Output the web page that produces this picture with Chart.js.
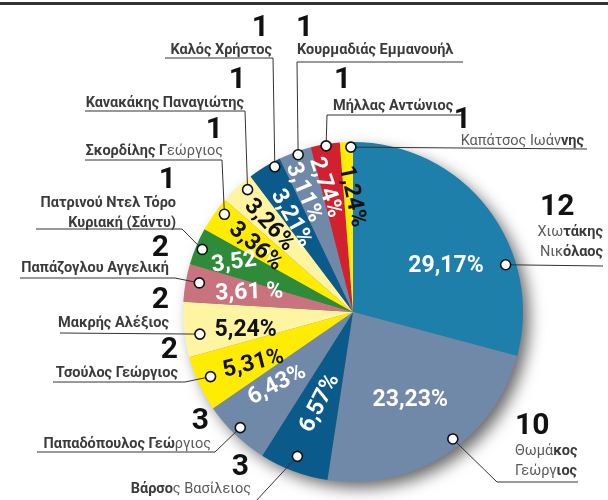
<!DOCTYPE html>
<html lang="el">
<head>
    <meta charset="UTF-8">
    <title>Σταυροί προτίμησης</title>
    <script src="https://cdn.jsdelivr.net/npm/chart.js"></script>
    <style>
        html, body {
            margin: 0;
            padding: 0;
            background: #fff;
        }
        .chart-container {
            position: relative;
            width: 608px;
            height: 500px;
        }
        .top-rule {
            position: absolute;
            left: 0;
            top: 2px;
            width: 608px;
            height: 3px;
            background: #333;
        }
    </style>
</head>
<body>
    <div class="chart-container">
        <canvas id="votesChart" width="608" height="500"></canvas>
        <div class="top-rule"></div>
    </div>

    <script>
        const candidates = [
            'Χιωτάκης Νικόλαος', 'Θωμάκος Γεώργιος', 'Βάρσος Βασίλειος', 'Παπαδόπουλος Γεώργιος',
            'Τσούλος Γεώργιος', 'Μακρής Αλέξιος', 'Παπάζογλου Αγγελική', 'Πατρινού Ντελ Τόρο Κυριακή (Σάντυ)',
            'Σκορδίλης Γεώργιος', 'Κανακάκης Παναγιώτης', 'Καλός Χρήστος', 'Κουρμαδιάς Εμμανουήλ',
            'Μήλλας Αντώνιος', 'Καπάτσος Ιωάννης'
        ];
        const shares = [29.17, 23.23, 6.57, 6.43, 5.31, 5.24, 3.61, 3.52, 3.36, 3.26, 3.21, 3.11, 2.74, 1.24];
        const seats = [12, 10, 3, 3, 2, 2, 2, 1, 1, 1, 1, 1, 1, 1];

        const sliceColors = ['#1f7fab', '#7089a9', '#0b5a8c', '#7089a9', '#ffec00', '#fff4a2', '#c8737d',
            '#2e8b3a', '#ffec00', '#fff4a2', '#0b5a8c', '#7089a9', '#d2202e', '#ffec00'];
        const pctColors = ['#fff', '#fff', '#fff', '#fff', '#111', '#111', '#fff', '#fff', '#111', '#111', '#fff', '#fff', '#fff', '#111'];

        // label placement: number, name, leader path, dot [angle shift, radius fraction], pct [angle shift, radius fraction, rotation]
        const labelLayout = [
            { num: [540, 215, 'left'], name: [603, 236, 'right'], breakAt: 8, light: [[0, 3], [9, 12]], path: [[603, 266]], dot: [20.3, 0.94], pct: [11.2, 0.61, 0] },
            { num: [515, 434, 'left'], name: [515, 455, 'left'], breakAt: 7, light: [[0, 4], [8, 13]], path: [[578, 482], [497, 482]], dot: [-5, 0.95], pct: [0.3, 0.62, 0] },
            { num: [249, 475, 'right'], name: [251, 493, 'right'], light: [[5, 16]], path: [[255, 502]], dot: [0.6, 0.91], pct: [-0.6, 0.57, -63] },
            { num: [209, 429, 'right'], name: [211, 448, 'right'], light: [[16, 21]], path: [[37, 452], [215, 452]], dot: [0.4, 0.95], pct: [2.3, 0.62, -28] },
            { num: [178, 358, 'right'], name: [178, 377, 'right'], light: [], path: [[53, 382], [185, 382]], dot: [0.6, 0.92], pct: [-2.5, 0.66, -14] },
            { num: [169, 308, 'right'], name: [169, 327, 'right'], light: [], path: [[60, 333]], dot: [-2.2, 0.91], pct: [-3.5, 0.64, 0] },
            { num: [169, 256, 'right'], name: [169, 272, 'right'], light: [], path: [[20, 278], [175, 278]], dot: [0.8, 0.92], pct: [0.6, 0.62, -2] },
            { num: [176, 188, 'right'], name: [176, 207, 'right'], breakAt: 18, light: [], path: [[36, 229], [182, 229]], dot: [-0.2, 0.96], pct: [2.5, 0.70, -8] },
            { num: [223, 138, 'right'], name: [223, 155, 'right'], light: [[11, 18]], path: [[85, 160], [222, 160]], dot: [2.1, 0.95], pct: [-1.3, 0.69, 40] },
            { num: [246, 88, 'right'], name: [244, 107, 'right'], light: [], path: [[85, 111], [245, 111]], dot: [2.2, 0.95], pct: [-1.1, 0.71, 47] },
            { num: [269, 36, 'right'], name: [272, 54, 'right'], light: [], path: [[165, 58], [273, 58]], dot: [3, 0.97], pct: [-2.1, 0.66, 61] },
            { num: [296, 36, 'left'], name: [297, 54, 'left'], light: [], path: [[463, 62], [297, 62]], dot: [0.7, 0.98], pct: [-2.5, 0.76, 67] },
            { num: [334, 88, 'left'], name: [333, 110, 'left'], light: [], path: [[462, 115], [327, 115]], dot: [0.2, 0.99], pct: [-3.2, 0.75, 71] },
            { num: [471, 128, 'right'], name: [584, 145, 'right'], light: [[0, 13]], path: [[587, 149]], dot: [1.5, 0.97], pct: [1.7, 0.68, 78] }
        ];

        const rad = d => d * Math.PI / 180;
        const fmtPct = (v, i) => v.toFixed(2).replace('.', ',') + (i === 6 || i === 7 ? ' %' : '%');

        function arcPoint(arc, shiftDeg, frac) {
            const a = (arc.startAngle + arc.endAngle) / 2 + rad(shiftDeg);
            return {
                x: arc.x + Math.cos(a) * arc.outerRadius * frac,
                y: arc.y + Math.sin(a) * arc.outerRadius * frac
            };
        }

        function drawName(ctx, text, from, to, light, x, y, align) {
            const segs = [];
            for (let i = from; i < to; i++) {
                const isLight = light.some(([a, b]) => i >= a && i < b);
                const last = segs[segs.length - 1];
                if (last && last.light === isLight) last.t += text[i];
                else segs.push({ t: text[i], light: isLight });
            }
            const font = l => (l ? '400' : '700') + ' 14.5px Roboto';
            let w = 0;
            segs.forEach(s => { ctx.font = font(s.light); s.w = ctx.measureText(s.t).width; w += s.w; });
            let cx = align === 'right' ? x - w : x;
            ctx.textAlign = 'left';
            ctx.textBaseline = 'alphabetic';
            segs.forEach(s => {
                ctx.font = font(s.light);
                ctx.fillStyle = s.light ? '#5a5a5a' : '#3b3b3b';
                ctx.fillText(s.t, cx, y);
                cx += s.w;
            });
        }

        const pieShadow = {
            id: 'pieShadow',
            beforeDatasetsDraw(chart) {
                const arc = chart.getDatasetMeta(0).data[0];
                const ctx = chart.ctx;
                ctx.save();
                ctx.shadowColor = 'rgba(0,0,0,0.6)';
                ctx.shadowBlur = 16;
                ctx.shadowOffsetX = 7;
                ctx.shadowOffsetY = 7;
                ctx.fillStyle = '#777';
                ctx.beginPath();
                ctx.arc(arc.x, arc.y, arc.outerRadius - 1, 0, Math.PI * 2);
                ctx.fill();
                ctx.restore();
            }
        };

        const sliceLabels = {
            id: 'sliceLabels',
            afterDatasetsDraw(chart) {
                const ctx = chart.ctx;
                const arcs = chart.getDatasetMeta(0).data;
                ctx.save();

                // percentages inside slices
                arcs.forEach((arc, i) => {
                    const [shift, frac, rot] = labelLayout[i].pct;
                    const p = arcPoint(arc, shift, frac);
                    ctx.save();
                    ctx.translate(p.x, p.y);
                    ctx.rotate(rad(rot));
                    ctx.font = '700 23px Roboto';
                    ctx.textAlign = 'center';
                    ctx.textBaseline = 'middle';
                    ctx.fillStyle = pctColors[i];
                    ctx.fillText(fmtPct(shares[i], i), 0, 0);
                    ctx.restore();
                });

                // leader lines
                arcs.forEach((arc, i) => {
                    const lay = labelLayout[i];
                    const dot = arcPoint(arc, lay.dot[0], lay.dot[1]);
                    ctx.beginPath();
                    ctx.strokeStyle = '#333';
                    ctx.lineWidth = 1;
                    lay.path.forEach(([x, y], k) => k === 0 ? ctx.moveTo(x, y) : ctx.lineTo(x, y));
                    ctx.lineTo(dot.x, dot.y);
                    ctx.stroke();
                });

                // markers
                arcs.forEach((arc, i) => {
                    const lay = labelLayout[i];
                    const dot = arcPoint(arc, lay.dot[0], lay.dot[1]);
                    ctx.beginPath();
                    ctx.arc(dot.x, dot.y, 5, 0, Math.PI * 2);
                    ctx.fillStyle = '#fff';
                    ctx.fill();
                    ctx.lineWidth = 1.6;
                    ctx.strokeStyle = '#111';
                    ctx.stroke();
                });

                // seat numbers and names
                candidates.forEach((name, i) => {
                    const lay = labelLayout[i];
                    ctx.font = '700 30px Roboto';
                    ctx.fillStyle = '#111';
                    ctx.textAlign = lay.num[2];
                    ctx.textBaseline = 'alphabetic';
                    ctx.fillText(String(seats[i]), lay.num[0], lay.num[1]);

                    const [nx, ny, align] = lay.name;
                    if (lay.breakAt) {
                        drawName(ctx, name, 0, lay.breakAt, lay.light, nx, ny, align);
                        drawName(ctx, name, lay.breakAt + 1, name.length, lay.light, nx, ny + 20, align);
                    } else {
                        drawName(ctx, name, 0, name.length, lay.light, nx, ny, align);
                    }
                });

                ctx.restore();
            }
        };

        const ctx = document.getElementById('votesChart').getContext('2d');
        const chart = new Chart(ctx, {
            type: 'pie',
            data: {
                labels: candidates,
                datasets: [{
                    data: shares,
                    backgroundColor: sliceColors,
                    borderWidth: 0,
                    hoverOffset: 0
                }]
            },
            options: {
                responsive: false,
                animation: false,
                events: [],
                layout: {
                    padding: { left: 183, right: 85, top: 142, bottom: 18 }
                },
                plugins: {
                    legend: { display: false },
                    tooltip: { enabled: false }
                }
            },
            plugins: [pieShadow, sliceLabels]
        });
    </script>
</body>
</html>
